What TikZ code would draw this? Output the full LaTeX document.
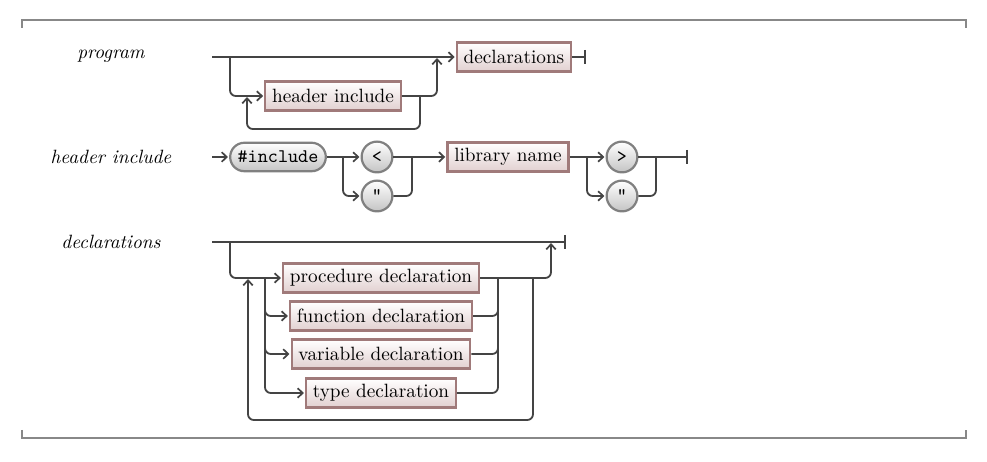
\documentclass[tikz,border=0pt]{standalone}
\usepackage{fontspec}
\usetikzlibrary{arrows.meta,shapes.misc}
\definecolor{linec}{HTML}{444444}
\definecolor{ntborder}{HTML}{A07A7A}
\definecolor{ntfill}{HTML}{E2D0D0}
\definecolor{tborder}{HTML}{808080}
\definecolor{tfill}{HTML}{C4C4C4}
\definecolor{framec}{HTML}{888888}
\tikzset{
 nonterm/.style={rectangle, draw=ntborder, line width=1.15pt, top color=white, bottom color=ntfill, minimum height=15pt, inner xsep=3.5pt, inner ysep=2.5pt},
 termpill/.style={rounded rectangle, draw=tborder, line width=1.15pt, top color=white, bottom color=tfill, minimum height=14.8pt, inner xsep=3.2pt, font=\ttfamily},
 termcirc/.style={circle, draw=tborder, line width=1.15pt, top color=white, bottom color=tfill, minimum size=16pt, inner sep=0pt, font=\ttfamily},
 rail/.style={draw=linec, line width=0.95pt, rounded corners=3pt},
 arr/.style={rail, -{Straight Barb[length=2.6pt,width=5pt,line width=0.9pt]}, shorten >=0.6pt},
 endbar/.style={rail, -{Bar[width=7.5pt,line width=0.95pt]}},
 lbl/.style={font=\itshape},
 boxframe/.style={draw=framec, line width=1pt}
}
\begin{document}
\begin{tikzpicture}[x=0.52pt,y=-0.52pt]
\useasboundingbox (0,0) rectangle (987,462);
% frame
\draw[boxframe] (22,28) -- (22,20) -- (966,20) -- (966,28);
\draw[boxframe] (22,430) -- (22,438) -- (966,438) -- (966,430);

% ---------- program ----------
\node[lbl] (lprog) at (111,56) {program};
\coordinate (p0) at (212,57);
\coordinate (pb) at (230,57);
\coordinate (pj) at (437,57);
\coordinate (pend) at (586,57);
\node[nonterm] (decl) at (514,57) {declarations};
\node[nonterm] (hinc) at (333,96) {header include};
\coordinate (lp1) at (420,96);
\coordinate (lp2) at (420,129);
\coordinate (lp3) at (247,129);
\coordinate (lp4) at (247,96);
\draw[arr] (p0) -- (decl.west);
\draw[endbar] (decl.east) -- (pend);
\draw[arr] (pb) |- (hinc.west);
\draw[arr] (hinc.east) -| (pj);
\draw[arr] (lp1) -- (lp2) -- (lp3) -- (lp4);

% ---------- header include ----------
\node[lbl] (lhi) at (111,157) {header include};
\coordinate (h0) at (212,157);
\node[termpill] (inc) at (278,157) {\#include};
\coordinate (hb1) at (343,157);
\node[termcirc] (lt) at (377,157) {<};
\node[termcirc] (q1) at (377,196) {"};
\coordinate (hj1) at (412,157);
\node[nonterm] (lib) at (508,157) {library name};
\coordinate (hb2) at (587,157);
\node[termcirc] (gt) at (622,157) {>};
\node[termcirc] (q2) at (622,196) {"};
\coordinate (hj2) at (656,157);
\coordinate (hend) at (688,157);
\draw[arr] (h0) -- (inc.west);
\draw[arr] (inc.east) -- (lt.west);
\draw[arr] (hb1) |- (q1.west);
\draw[arr] (lt.east) -- (lib.west);
\draw[rail] (q1.east) -| (hj1);
\draw[arr] (lib.east) -- (gt.west);
\draw[arr] (hb2) |- (q2.west);
\draw[endbar] (gt.east) -- (hend);
\draw[rail] (q2.east) -| (hj2);

% ---------- declarations ----------
\node[lbl] (ldecl) at (111,242) {declarations};
\coordinate (d0) at (212,242);
\coordinate (db) at (230,242);
\coordinate (dj) at (551,242);
\coordinate (dend) at (566,242);
\node[nonterm] (proc) at (381,278) {procedure declaration};
\node[nonterm] (func) at (381,316) {function declaration};
\node[nonterm] (var) at (381,354) {variable declaration};
\node[nonterm] (type) at (381,393) {type declaration};
\coordinate (ib) at (265,278);
\coordinate (ij) at (498,278);
\coordinate (dl1) at (533,278);
\coordinate (dl2) at (533,420);
\coordinate (dl3) at (248,420);
\coordinate (dl4) at (248,278);
\draw[endbar] (d0) -- (dend);
\draw[arr] (db) |- (proc.west);
\draw[arr] (ib) |- (func.west);
\draw[arr] (ib) |- (var.west);
\draw[arr] (ib) |- (type.west);
\draw[rail] (func.east) -| (ij);
\draw[rail] (var.east) -| (ij);
\draw[rail] (type.east) -| (ij);
\draw[arr] (proc.east) -| (dj);
\draw[arr] (dl1) -- (dl2) -- (dl3) -- (dl4);
\end{tikzpicture}
\end{document}
